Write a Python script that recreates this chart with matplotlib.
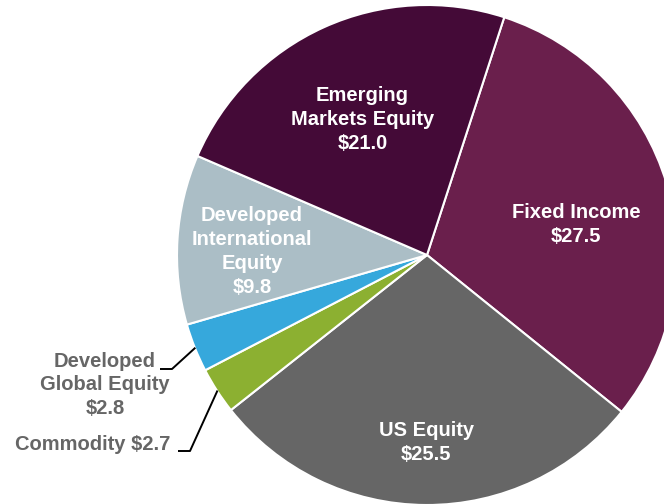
import matplotlib.pyplot as plt
import numpy as np

plt.rcParams['font.family'] = ['Liberation Sans', 'DejaVu Sans']

# slices, clockwise from the top
labels = ["Fixed Income", "US Equity", "Commodity",
          "Developed\nGlobal Equity", "Developed\nInternational\nEquity",
          "Emerging\nMarkets Equity"]
values = [27.5, 25.5, 2.7, 2.8, 9.8, 21.0]
colors = ["#6A1F4C", "#666666", "#8CB031", "#36A8DC", "#ABBEC6", "#440A37"]

# label placement inside wedges (radius, angle tweak in degrees); None = outside
inside = [(0.61, -5), (0.75, 0), None, None, (0.70, 2.5), (0.60, 1.2)]

FS = 14.5
LS = 1.33

fig = plt.figure(figsize=(6.64, 5.04), dpi=100)
ax = fig.add_axes([0, 0, 1, 1])

wedges, _ = ax.pie(values, colors=colors, startangle=72, counterclock=False,
                   radius=1.0, center=(0, 0),
                   wedgeprops=dict(edgecolor="white", linewidth=1.5))

for w, lab, v, pos in zip(wedges, labels, values, inside):
    mid = (w.theta1 + w.theta2) / 2
    text = f"{lab}\n${v:.1f}"
    if pos is not None:
        r, da = pos
        a = np.radians(mid + da)
        ax.text(r * np.cos(a), r * np.sin(a), text, ha="center", va="center",
                color="white", fontsize=FS, fontweight="bold", linespacing=LS)

# outside labels with leader lines
a = np.radians((wedges[3].theta1 + wedges[3].theta2) / 2)
p0 = (0.998 * np.cos(a), 0.998 * np.sin(a))
ax.plot([p0[0], -1.02, -1.068], [p0[1], -0.456, -0.456], color="black", lw=1.4,
        solid_capstyle="butt")
ax.text(-1.288, -0.52, f"{labels[3]}\n${values[3]:.1f}", ha="center", va="center",
        color="#666666", fontsize=FS, fontweight="bold", linespacing=LS)

a = np.radians((wedges[2].theta1 + wedges[2].theta2) / 2)
p0 = (0.998 * np.cos(a), 0.998 * np.sin(a))
ax.plot([p0[0], -0.948, -0.996], [p0[1], -0.784, -0.784], color="black", lw=1.4,
        solid_capstyle="butt")
ax.text(-1.028, -0.756, f"{labels[2]} ${values[2]:.1f}", ha="right", va="center",
        color="#666666", fontsize=FS, fontweight="bold")

ax.set_xlim(-1.708, 0.948)
ax.set_ylim(-0.996, 1.02)
ax.set_aspect("equal")
ax.axis("off")

fig.savefig("out.png", dpi=100)
